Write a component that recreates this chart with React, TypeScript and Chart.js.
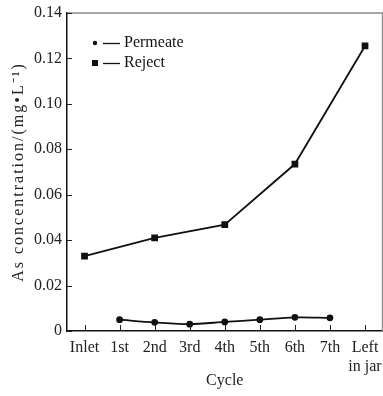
import React, { useEffect, useRef } from "react";
import { Chart, registerables } from "chart.js";

Chart.register(...registerables);

const categories = ["Inlet", "1st", "2nd", "3rd", "4th", "5th", "6th", "7th", ["Left", "in jar"]];
const permeate = [null, 0.005, 0.0038, 0.003, 0.004, 0.005, 0.006, 0.0058, null];
const reject = [0.033, null, 0.041, null, 0.0468, null, 0.0735, null, 0.1255];
const yTicks = [0, 0.02, 0.04, 0.06, 0.08, 0.1, 0.12, 0.14];
const yTitle = "As concentration/(mg•L⁻¹)";

const FONT = "'Liberation Serif', 'Times New Roman', serif";

const framePlugin = {
  id: "frame",
  afterDraw(chart: any) {
    const { ctx, chartArea } = chart;
    const xs = chart.scales.x;
    const ys = chart.scales.y;
    ctx.save();
    // top & right frame
    ctx.strokeStyle = "#8a8a8a";
    ctx.lineWidth = 1.5;
    ctx.beginPath();
    ctx.moveTo(chartArea.left, chartArea.top);
    ctx.lineTo(chartArea.right, chartArea.top);
    ctx.lineTo(chartArea.right, chartArea.bottom);
    ctx.stroke();
    // inward ticks
    ctx.strokeStyle = "#222";
    ctx.lineWidth = 1;
    ctx.beginPath();
    ys.ticks.forEach((_t: any, i: number) => {
      const y = Math.round(ys.getPixelForTick(i)) + 0.5;
      ctx.moveTo(chartArea.left, y);
      ctx.lineTo(chartArea.left + 5, y);
    });
    xs.ticks.forEach((_t: any, i: number) => {
      const x = Math.round(xs.getPixelForTick(i)) + 0.5;
      ctx.moveTo(x, chartArea.bottom);
      ctx.lineTo(x, chartArea.bottom - 6);
    });
    ctx.stroke();
    // y title (letter-spaced)
    ctx.save();
    ctx.translate(19, (chartArea.top + chartArea.bottom) / 2);
    ctx.rotate(-Math.PI / 2);
    ctx.font = `16px ${FONT}`;
    (ctx as any).letterSpacing = "2px";
    ctx.fillStyle = "#222";
    ctx.textAlign = "center";
    ctx.textBaseline = "middle";
    ctx.fillText(yTitle, 0, 0);
    ctx.restore();
    // legend
    const rows = [{ y: 43 }, { y: 63 }];
    chart.data.datasets.forEach((ds: any, i: number) => {
      const y = rows[i].y;
      const mx = chartArea.left + 28;
      ctx.fillStyle = "#111";
      if (ds.pointStyle === "rect") {
        ctx.fillRect(mx - 3, y - 3, 6, 6);
      } else {
        ctx.beginPath();
        ctx.arc(mx, y, 2.2, 0, Math.PI * 2);
        ctx.fill();
      }
      ctx.strokeStyle = "#111";
      ctx.lineWidth = 1.3;
      ctx.beginPath();
      ctx.moveTo(mx + 8, y + 0.5);
      ctx.lineTo(mx + 25, y + 0.5);
      ctx.stroke();
      ctx.font = `16px ${FONT}`;
      ctx.textBaseline = "middle";
      ctx.textAlign = "left";
      ctx.fillText(ds.label, mx + 29, y);
    });
    ctx.restore();
  },
};

const CANVAS_W = 389;

export default function App() {
  const ref = useRef<HTMLCanvasElement>(null);
  useEffect(() => {
    const chart = new Chart(ref.current!, {
      type: "line",
      data: {
        labels: categories as any,
        datasets: [
          {
            label: "Permeate",
            data: permeate,
            borderColor: "#111",
            backgroundColor: "#111",
            borderWidth: 1.8,
            pointStyle: "circle",
            pointRadius: 2.5,
            tension: 0.3,
            spanGaps: true,
          },
          {
            label: "Reject",
            data: reject,
            borderColor: "#111",
            backgroundColor: "#111",
            borderWidth: 1.8,
            pointStyle: "rect",
            pointRadius: 3.5,
            tension: 0,
            spanGaps: true,
          },
        ],
      },
      options: {
        animation: false,
        responsive: false,
        maintainAspectRatio: false,
        layout: { padding: { top: 13, right: 1, left: 0, bottom: 0 } },
        plugins: { legend: { display: false }, tooltip: { enabled: false } },
        scales: {
          x: {
            type: "category",
            offset: true,
            grid: { display: false, drawTicks: false },
            border: { display: true, color: "#111", width: 1.5 },
            ticks: {
              color: "#222",
              padding: 7,
              font: { family: FONT, size: 16 },
              maxRotation: 0,
              autoSkip: false,
            },
            title: {
              display: true,
              text: "Cycle",
              color: "#222",
              font: { family: FONT, size: 16 },
              padding: { top: 0, bottom: 6 },
            },
            afterFit: (s: any) => {
              s.height = 65;
            },
          },
          y: {
            min: 0,
            max: 0.14,
            grid: { display: false, drawTicks: false },
            border: { display: true, color: "#111", width: 1.5 },
            afterBuildTicks: (s: any) => {
              s.ticks = yTicks.map((v) => ({ value: v }));
            },
            ticks: {
              color: "#222",
              padding: 5,
              font: { family: FONT, size: 16 },
              callback: (v: any) => (Number(v) === 0 ? "0" : Number(v).toFixed(2)),
            },
            title: { display: false },
            afterFit: (s: any) => {
              s.width = 67;
              s.paddingTop = 0;
              s.paddingBottom = 0;
            },
          },
        },
      },
      plugins: [framePlugin],
    });
    return () => chart.destroy();
  }, []);
  return (
    <div style={{ position: "fixed", left: 0, top: 0, width: 383, height: 396, background: "#fff", overflow: "hidden" }}>
      <canvas ref={ref} width={CANVAS_W} height={396} style={{ width: CANVAS_W, height: 396, display: "block" }} />
    </div>
  );
}
